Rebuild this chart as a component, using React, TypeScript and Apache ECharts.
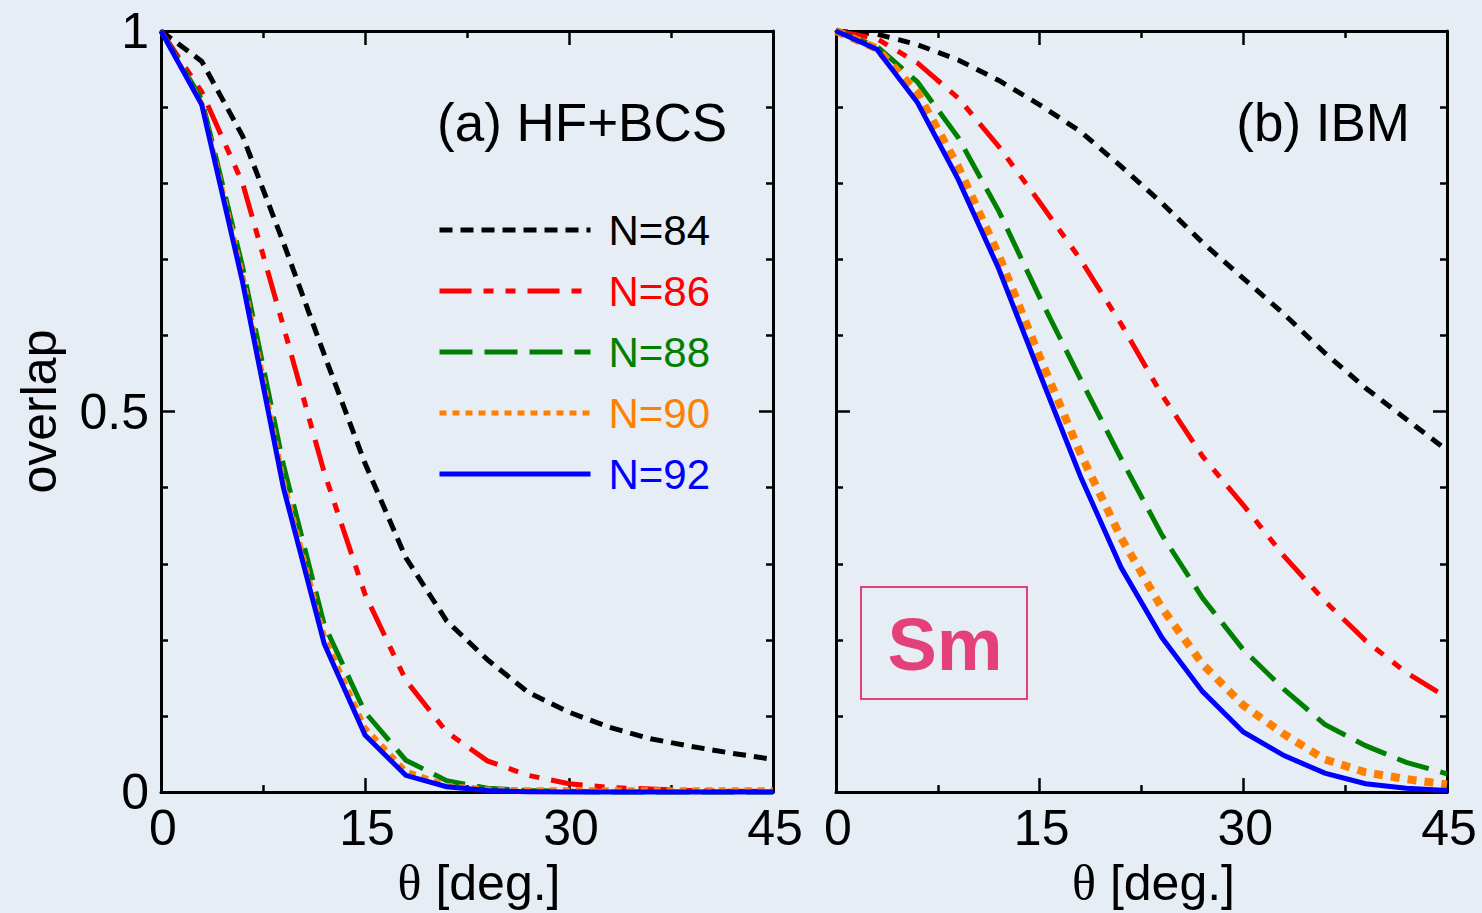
import React, { useEffect, useRef } from "react";
import * as echarts from "echarts";

// θ grid (degrees)
const THETA = [0, 3, 6, 9, 12, 15, 18, 21, 24, 27, 30, 33, 36, 39, 42, 45];

// (a) HF+BCS overlaps
const HF_N84 = [1, 0.96, 0.862, 0.722, 0.575, 0.432, 0.308, 0.225, 0.174, 0.131, 0.105, 0.085, 0.07, 0.06, 0.051, 0.043];
const HF_N86 = [1, 0.92, 0.8, 0.612, 0.42, 0.26, 0.147, 0.079, 0.041, 0.022, 0.011, 0.006, 0.004, 0.002, 0.001, 0.001];
const HF_N88 = [1, 0.91, 0.69, 0.43, 0.22, 0.105, 0.042, 0.015, 0.005, 0.002, 0.001, 0, 0, 0, 0, 0];
const HF_N90 = [1, 0.905, 0.68, 0.41, 0.205, 0.085, 0.028, 0.009, 0.004, 0.003, 0.003, 0.003, 0.003, 0.003, 0.003, 0.003];
const HF_N92 = [1, 0.903, 0.67, 0.4, 0.195, 0.075, 0.022, 0.007, 0.002, 0.0005, 0, 0, 0, 0, 0, 0];

// (b) IBM overlaps
const IBM_N84 = [1, 0.996, 0.982, 0.962, 0.935, 0.903, 0.868, 0.822, 0.774, 0.722, 0.675, 0.628, 0.577, 0.531, 0.49, 0.449];
const IBM_N86 = [1, 0.99, 0.958, 0.912, 0.848, 0.775, 0.7, 0.615, 0.522, 0.441, 0.377, 0.31, 0.251, 0.199, 0.157, 0.124];
const IBM_N88 = [1, 0.98, 0.933, 0.86, 0.763, 0.65, 0.543, 0.438, 0.338, 0.255, 0.187, 0.135, 0.089, 0.061, 0.039, 0.024];
const IBM_N90 = [1, 0.977, 0.919, 0.822, 0.705, 0.572, 0.445, 0.334, 0.242, 0.168, 0.114, 0.076, 0.043, 0.026, 0.017, 0.01];
const IBM_N92 = [1, 0.976, 0.906, 0.805, 0.687, 0.55, 0.415, 0.295, 0.203, 0.132, 0.079, 0.048, 0.025, 0.011, 0.005, 0.002];

const NAMES = ["N=84", "N=86", "N=88", "N=90", "N=92"];
const COLORS = ["#000000", "#ff0000", "#008000", "#ff8000", "#0000ff"];
const X_TICKS = [0, 15, 30, 45];
const Y_TICKS = [0, 0.5, 1];

const FONT = "'Liberation Sans', Arial, Helvetica, sans-serif";
const BG = "#e6edf5";

export default function App() {
  const ref = useRef<HTMLDivElement>(null);

  useEffect(() => {
    if (!ref.current) return;
    const chart = echarts.init(ref.current, undefined, { renderer: "svg" });

    const dashes: (number[] | "solid")[] = [[13, 8], [32, 12, 10, 12, 10, 12], [33, 12], [7, 6], "solid"];
    const leftWidths = [5, 5, 5, 5, 5];
    const rightWidths = [5, 5, 5, 8, 5];
    const rightDashes: (number[] | "solid")[] = [[12, 9], [32, 12, 10, 12, 10, 12], [33, 12], [9, 8], "solid"];

    const hf = [HF_N84, HF_N86, HF_N88, HF_N90, HF_N92];
    const ibm = [IBM_N84, IBM_N86, IBM_N88, IBM_N90, IBM_N92];

    const mkSeries = (arrs: number[][], axis: number, widths: number[], dsh: (number[] | "solid")[]) =>
      arrs.map((arr, i) => ({
        type: "line",
        name: NAMES[i],
        xAxisIndex: axis,
        yAxisIndex: axis,
        data: THETA.map((t, k) => [t, arr[k]]),
        symbol: "none",
        clip: false,
        lineStyle: { color: COLORS[i], width: widths[i], type: dsh[i], cap: "butt", join: "miter" },
        itemStyle: { color: COLORS[i] },
        z: 3 + i,
      }));

    const axisLine = { show: true, onZero: false, lineStyle: { color: "#000", width: 3 } };
    const axisTick = { show: true, inside: true, length: 14, lineStyle: { color: "#000", width: 2.5 } };
    const minorX = { show: true, splitNumber: 2, length: 7, lineStyle: { color: "#000", width: 2.5 } };
    const minorY = { show: true, splitNumber: 5, length: 7, lineStyle: { color: "#000", width: 2.5 } };

    const xBase = (grid: number, pos: string, labels: boolean) => ({
      type: "value",
      gridIndex: grid,
      position: pos,
      min: X_TICKS[0],
      max: X_TICKS[X_TICKS.length - 1],
      interval: X_TICKS[1] - X_TICKS[0],
      axisLine,
      axisTick,
      minorTick: minorX,
      splitLine: { show: false },
      axisLabel: labels
        ? { show: true, fontSize: 50, lineHeight: 40, color: "#000", fontFamily: FONT, margin: 16, padding: [0, 0, 0, 4] }
        : { show: false },
      ...(labels
        ? {
            name: "{t|θ} [deg.]",
            nameLocation: "middle",
            nameGap: 62,
            nameTextStyle: {
              fontSize: 50,
              color: "#000",
              fontFamily: FONT,
              padding: [0, 0, 0, 24],
              rich: { t: { fontSize: 50, fontFamily: "'Liberation Serif', 'Times New Roman', serif", color: "#000" } },
            },
          }
        : {}),
    });

    const yBase = (grid: number, pos: string, labels: boolean, named: boolean) => ({
      type: "value",
      gridIndex: grid,
      position: pos,
      min: Y_TICKS[0],
      max: Y_TICKS[Y_TICKS.length - 1],
      interval: Y_TICKS[1] - Y_TICKS[0],
      axisLine,
      axisTick,
      minorTick: minorY,
      splitLine: { show: false },
      axisLabel: labels
        ? { show: true, fontSize: 50, lineHeight: 34, color: "#000", fontFamily: FONT, margin: 12 }
        : { show: false },
      ...(named
        ? {
            name: "overlap",
            nameLocation: "middle",
            nameGap: 97,
            nameRotate: 90,
            nameTextStyle: { fontSize: 50, color: "#000", fontFamily: FONT },
          }
        : {}),
    });

    chart.setOption({
      animation: false,
      backgroundColor: BG,
      grid: [
        { left: 161, top: 31, width: 612, height: 764 },
        { left: 836, top: 31, width: 611, height: 764 },
      ],
      xAxis: [xBase(0, "bottom", true), xBase(1, "bottom", true), xBase(0, "top", false), xBase(1, "top", false)],
      yAxis: [yBase(0, "left", true, true), yBase(1, "left", false, false), yBase(0, "right", false, false), yBase(1, "right", false, false)],
      legend: {
        left: 437,
        top: 209,
        padding: 0,
        orient: "vertical",
        itemWidth: 151,
        itemHeight: 20,
        itemGap: 19,
        selectedMode: false,
        itemStyle: { opacity: 0, borderWidth: 0 },
        lineStyle: { width: 5 },
        textStyle: { fontSize: 42, fontFamily: FONT, padding: [0, 0, 0, 13] },
        data: NAMES.map((n, i) => ({ name: n, textStyle: { color: COLORS[i] } })),
      },
      series: [...mkSeries(hf, 0, leftWidths, dashes), ...mkSeries(ibm, 1, rightWidths, rightDashes)],
      graphic: [
        {
          type: "text",
          x: 437,
          y: 122,
          style: { text: "(a) HF+BCS", font: `53px ${FONT}`, fill: "#000", textAlign: "left", textVerticalAlign: "middle" },
        },
        {
          type: "text",
          x: 1410,
          y: 122,
          style: { text: "(b) IBM", font: `53px ${FONT}`, fill: "#000", textAlign: "right", textVerticalAlign: "middle" },
        },
        {
          type: "rect",
          shape: { x: 861, y: 587, width: 166, height: 112 },
          style: { fill: "none", stroke: "#e4407a", lineWidth: 2 },
        },
        {
          type: "text",
          x: 945,
          y: 644,
          style: { text: "Sm", font: `bold 74px ${FONT}`, fill: "#e4407a", textAlign: "center", textVerticalAlign: "middle" },
        },
      ],
    });

    return () => chart.dispose();
  }, []);

  return (
    <div
      ref={ref}
      style={{ position: "fixed", left: 0, top: 0, width: 1482, height: 913, background: BG }}
    />
  );
}
